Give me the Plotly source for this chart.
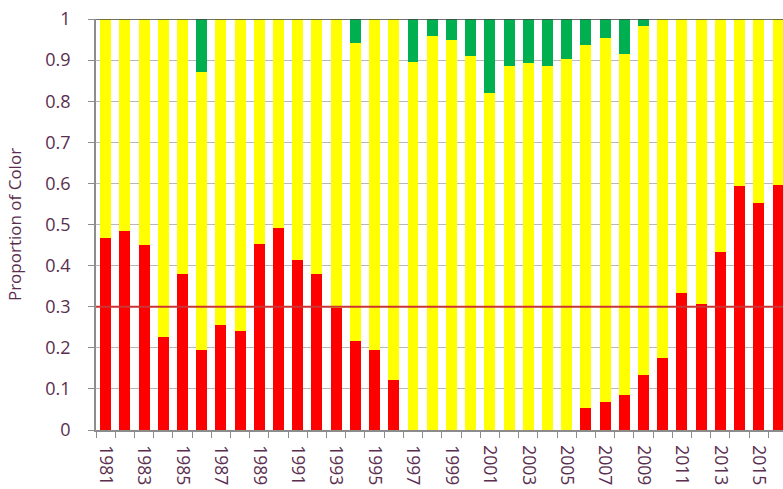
import plotly.graph_objects as go

years = list(range(1981, 2017))
red = [0.467, 0.483, 0.450, 0.227, 0.380, 0.194, 0.255, 0.241, 0.453, 0.491,
       0.414, 0.380, 0.298, 0.217, 0.194, 0.122, 0.0, 0.0, 0.0, 0.0,
       0.0, 0.0, 0.0, 0.0, 0.0, 0.054, 0.069, 0.085, 0.133, 0.176,
       0.333, 0.307, 0.434, 0.594, 0.553, 0.595]
green = [0.0, 0.0, 0.0, 0.0, 0.0, 0.128, 0.0, 0.0, 0.0, 0.0,
         0.0, 0.0, 0.0, 0.059, 0.0, 0.0, 0.104, 0.041, 0.050, 0.089,
         0.180, 0.114, 0.107, 0.114, 0.098, 0.063, 0.046, 0.085, 0.017, 0.0,
         0.0, 0.0, 0.0, 0.0, 0.0, 0.0]
yellow = [0.533, 0.517, 0.550, 0.773, 0.620, 0.678, 0.745, 0.759, 0.547, 0.509,
          0.586, 0.620, 0.702, 0.724, 0.806, 0.878, 0.896, 0.959, 0.950, 0.911,
          0.820, 0.886, 0.893, 0.886, 0.902, 0.883, 0.885, 0.830, 0.850, 0.824,
          0.667, 0.693, 0.566, 0.406, 0.447, 0.405]
tick_years = list(range(1981, 2016, 2))
y_ticks = [0, 0.1, 0.2, 0.3, 0.4, 0.5, 0.6, 0.7, 0.8, 0.9, 1]
y_tick_text = ["0", "0.1", "0.2", "0.3", "0.4", "0.5", "0.6", "0.7", "0.8", "0.9", "1"]
threshold = 0.3

txt = "#5a2e4f"
font_family = "Open Sans"

fig = go.Figure()
fig.add_bar(x=years, y=red, marker=dict(color="#ff0000", line=dict(width=0)), name="Red")
fig.add_bar(x=years, y=yellow, marker=dict(color="#ffff00", line=dict(width=0)), name="Yellow")
fig.add_bar(x=years, y=green, marker=dict(color="#00b050", line=dict(width=0)), name="Green")

fig.add_shape(type="line", xref="paper", x0=0, x1=1, yref="y", y0=threshold, y1=threshold,
              line=dict(color="#cc3333", width=2), layer="above")
fig.add_shape(type="line", xref="paper", x0=0, x1=1, yref="y", y0=1, y1=1,
              line=dict(color="#404040", width=1.5), layer="above")

fig.update_layout(
    width=783, height=489,
    margin=dict(l=96, r=0, t=19, b=59, autoexpand=False),
    barmode="stack", bargap=0.43,
    showlegend=False,
    plot_bgcolor="white", paper_bgcolor="white",
    font=dict(family=font_family, color=txt, size=17),
)
fig.update_xaxes(
    range=[1980.5, 2016.26],
    tickmode="array", tickvals=tick_years, ticktext=[str(y) for y in tick_years],
    tickangle=90, ticks="", showgrid=False,
    showline=True, linecolor="#8c8c8c", linewidth=1.5,
    tickfont=dict(size=17.5, color=txt),
    ticklabelstandoff=10,
    minor=dict(tickmode="array", tickvals=[y - 0.5 for y in years] + [2016.5],
               ticks="outside", ticklen=6, tickcolor="#8c8c8c", tickwidth=1, showgrid=False),
)
fig.update_yaxes(
    range=[0, 1], tickmode="array", tickvals=y_ticks, ticktext=y_tick_text,
    ticks="outside", ticklen=6, tickcolor="#8c8c8c",
    showgrid=True, gridcolor="#b8b8b8", gridwidth=1,
    showline=True, linecolor="#8c8c8c", linewidth=1.5,
    zeroline=False,
    tickfont=dict(size=18, color=txt),
    ticklabelstandoff=14,
    title=dict(text="Proportion of Color", font=dict(size=17, color=txt), standoff=19),
)

fig.write_html("out.html", config={"displayModeBar": False},
               post_script="document.body.style.margin='0';document.body.style.overflow='hidden';")
